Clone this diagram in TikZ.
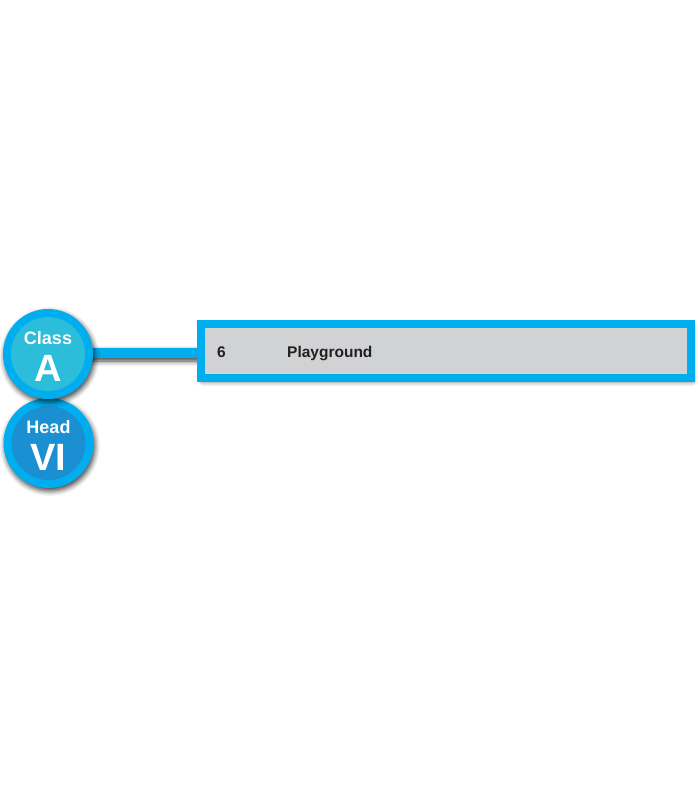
\documentclass[tikz,border=0pt]{standalone}
\usepackage{fontspec}
\setmainfont{Liberation Sans}
\usetikzlibrary{shadows.blur}
\definecolor{ringblue}{HTML}{00AEEF}
\definecolor{innerA}{HTML}{2BBDD9}
\definecolor{innerVI}{HTML}{1A90D2}
\definecolor{boxgray}{HTML}{D1D2D4}
\definecolor{txtdark}{HTML}{231F20}
\tikzset{
  shad/.style={blur shadow={shadow xshift=1.5pt,shadow yshift=-3pt,shadow blur radius=5pt,shadow opacity=75}},
  ring/.style={circle,fill=ringblue,minimum size=90pt,inner sep=0pt,shad},
  core/.style={circle,minimum size=74pt,inner sep=0pt},
  small/.style={text=white,font=\bfseries\fontsize{18}{18}\selectfont},
  big/.style={text=white,font=\bfseries\fontsize{38}{38}\selectfont},
  rowtxt/.style={text=txtdark,font=\bfseries\fontsize{15.5}{16}\selectfont,anchor=base west,inner sep=0pt}
}
\begin{document}
\begin{tikzpicture}[x=1pt,y=1pt]
\useasboundingbox (0,0) rectangle (700,-807);
% connector
\fill[ringblue,shad] (88,-348) rectangle (200,-358);
% box
\node[draw=ringblue,line width=8pt,fill=boxgray,minimum width=490pt,minimum height=54pt,inner sep=0pt,anchor=west,shad] (box) at (197,-351) {};
\node[rowtxt] (num) at (217,-357) {6};
\node[rowtxt] (lbl) at (287,-357) {Playground};
% circles
\node[ring] (ringVI) at (48.5,-443) {};
\node[core,fill=innerVI] (coreVI) at (ringVI) {};
\node[ring] (ringA) at (48,-354) {};
\node[core,fill=innerA] (coreA) at (ringA) {};
\node[small] (class) at (48,-338) {Class};
\node[big] (A) at (48,-368) {A};
\node[small] (head) at (48.5,-427) {Head};
\node[big] (VI) at (48.5,-457) {VI};
\end{tikzpicture}
\end{document}
